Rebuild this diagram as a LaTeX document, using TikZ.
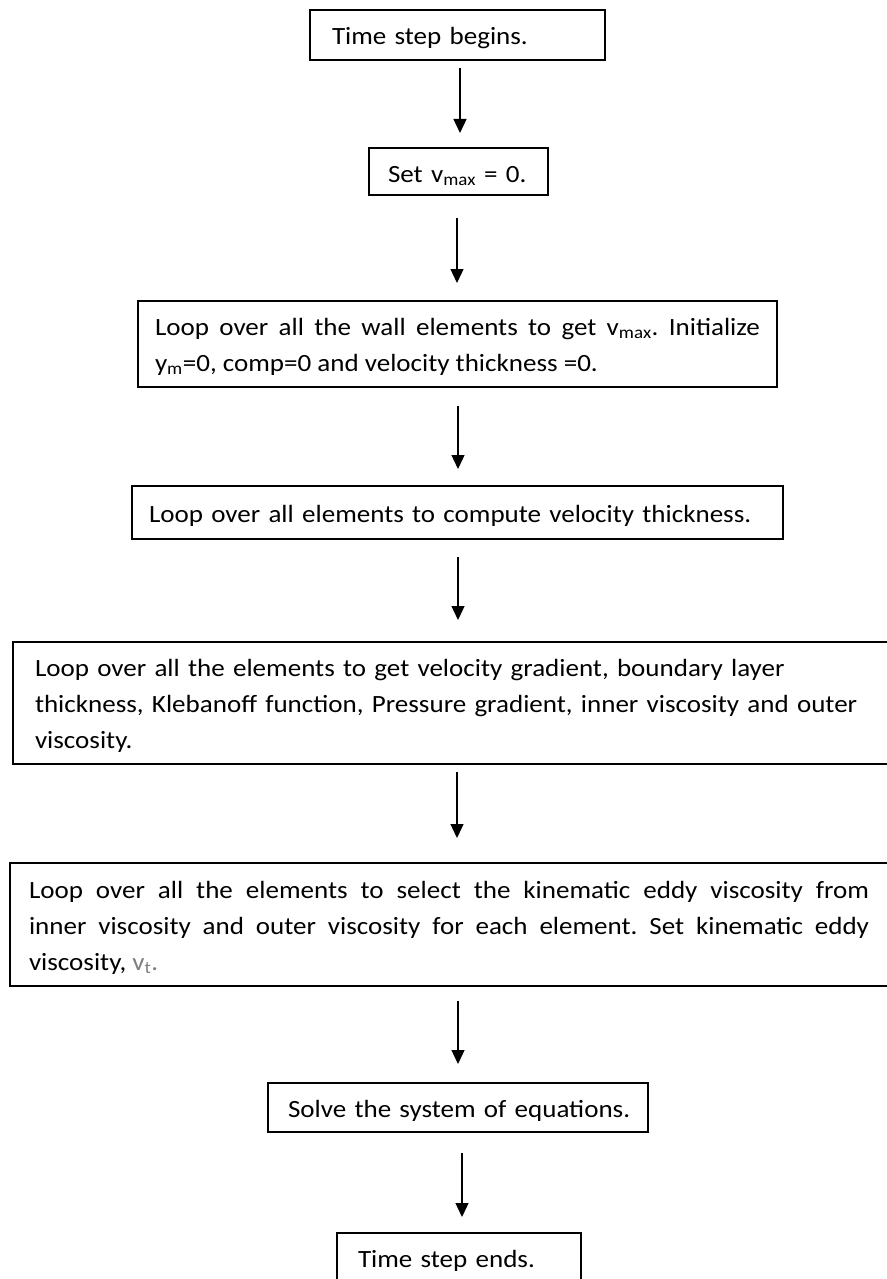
\documentclass[tikz,border=0pt]{standalone}
\usepackage{fontspec}
\setmainfont{Carlito}[FakeStretch=1.09]
\usetikzlibrary{arrows.meta}
\definecolor{vgray}{RGB}{125,125,125}
\tikzset{
  box/.style={draw=black, line width=1.5pt, anchor=north west, inner ysep=0pt, outer sep=0pt, font=\fontsize{24.8}{36}\selectfont\frenchspacing},
  lbox/.style={box, align=left, inner xsep=0pt},
  jbox/.style={box, align=justify},
  arr/.style={line width=1.3pt, -{Triangle[length=14pt,width=13pt]}},
}
\begin{document}
\begin{tikzpicture}[x=1pt,y=-1pt]
\useasboundingbox (0,0) rectangle (886,1279);
\node[lbox, minimum width=295pt, text width=295pt, minimum height=50pt, text height=25pt, text depth=5pt] (b1) at (310,10) {\hspace*{22pt}Time step begins.};
\node[lbox, minimum width=179pt, text width=179pt, minimum height=47pt, text height=26pt, text depth=5pt] (b2) at (369,148) {\hspace*{19pt}Set v\textsubscript{max} = 0.};
\node[jbox, inner xsep=17pt, text width=605pt, minimum height=86pt, text height=24pt, text depth=42pt] (b3) at (138,301) {Loop over all the wall elements to get v\textsubscript{max}. Initialize\linebreak y\textsubscript{m}=0, comp=0 and velocity thickness =0.};
\node[lbox, minimum width=651pt, text width=651pt, minimum height=53pt, text height=24pt, text depth=5pt] (b4) at (132,486) {\hspace*{17pt}Loop over all elements to compute velocity thickness.};
\node[lbox, minimum width=875pt, text width=875pt, minimum height=122pt, text height=24pt, text depth=78pt] (b5) at (13,642) {\hspace*{22pt}Loop over all the elements to get velocity gradient, boundary layer\\\hspace*{22pt}thickness, Klebanoff function, Pressure gradient, inner viscosity and outer\\\hspace*{22pt}viscosity.};
\node[jbox, inner xsep=19pt, text width=840pt, minimum height=123pt, text height=25pt, text depth=78pt] (b6) at (10,863) {Loop over all the elements to select the kinematic eddy viscosity from\linebreak inner viscosity and outer viscosity for each element. Set kinematic eddy\linebreak viscosity, {\color{vgray}v\textsubscript{t}.}};
\node[lbox, minimum width=380pt, text width=380pt, minimum height=49pt, text height=24pt, text depth=5pt] (b7) at (268,1083) {\hspace*{20pt}Solve the system of equations.};
\node[lbox, minimum width=244pt, text width=244pt, minimum height=47pt, text height=26pt, text depth=5pt] (b8) at (337,1233) {\hspace*{21pt}Time step ends.};
\coordinate (x1) at (460,0);
\coordinate (x2) at (457,0);
\coordinate (x3) at (458,0);
\coordinate (x4) at (458,0);
\coordinate (x5) at (457,0);
\coordinate (x6) at (458,0);
\coordinate (x7) at (462,0);
\draw[arr, shorten <=8pt, shorten >=15pt] (b1.south -| x1) -- (b2.north -| x1);
\draw[arr, shorten <=23pt, shorten >=18pt] (b2.south -| x2) -- (b3.north -| x2);
\draw[arr, shorten <=19pt, shorten >=17pt] (b3.south -| x3) -- (b4.north -| x3);
\draw[arr, shorten <=18pt, shorten >=22pt] (b4.south -| x4) -- (b5.north -| x4);
\draw[arr, shorten <=8pt, shorten >=25pt] (b5.south -| x5) -- (b6.north -| x5);
\draw[arr, shorten <=15pt, shorten >=19pt] (b6.south -| x6) -- (b7.north -| x6);
\draw[arr, shorten <=21pt, shorten >=16pt] (b7.south -| x7) -- (b8.north -| x7);
\end{tikzpicture}
\end{document}
